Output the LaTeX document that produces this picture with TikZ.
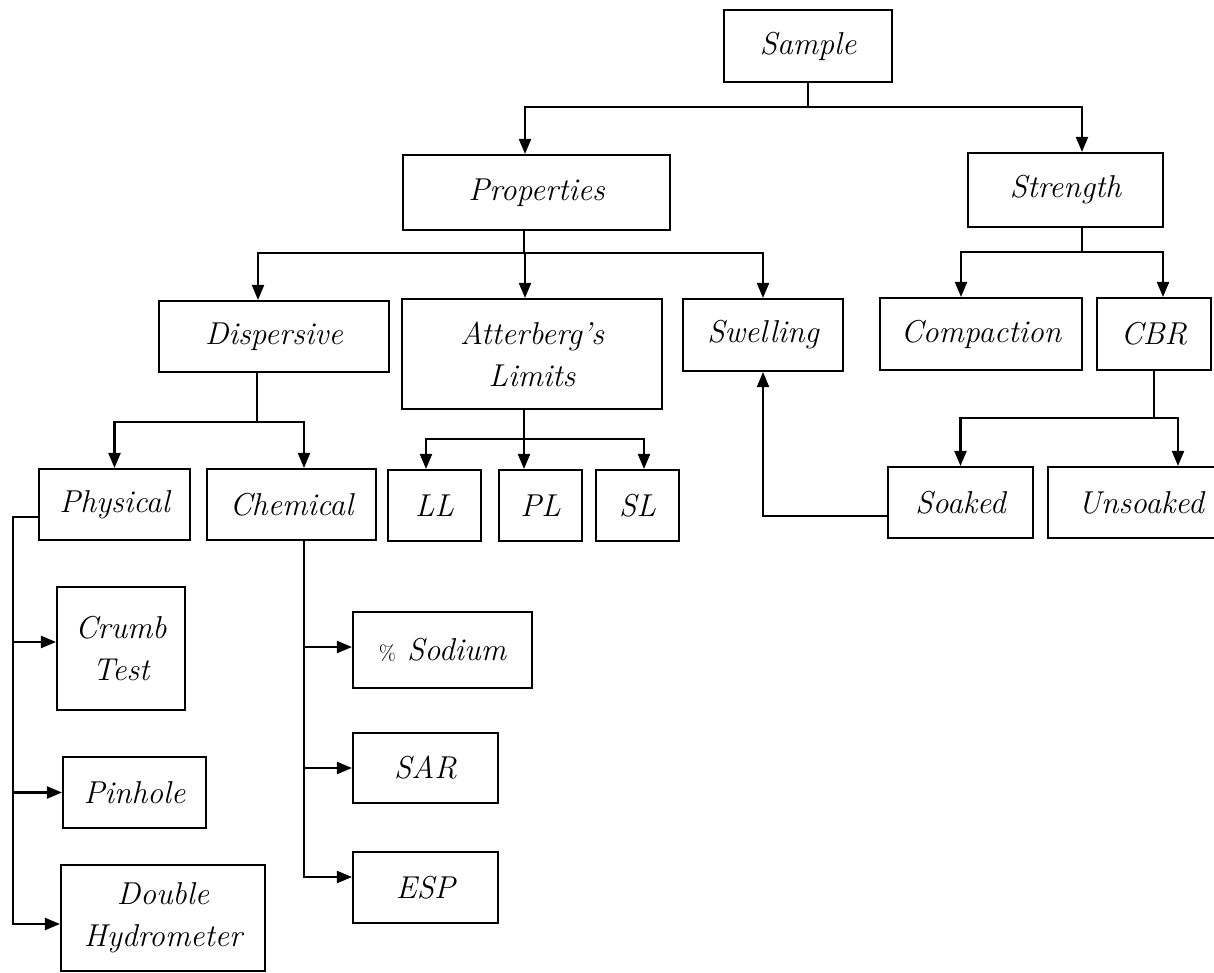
\documentclass[tikz,border=0pt]{standalone}
\usetikzlibrary{arrows.meta}
\begin{document}
\begin{tikzpicture}[
      x=0.02cm, y=-0.02cm,
      box/.style={rectangle, draw, line width=1.2pt, inner sep=0pt, align=center, font=\fontsize{18}{24}\selectfont\itshape},
      arrow/.style={-{Triangle[length=0.3cm, width=0.24cm]}, line width=1.2pt}
  ]
  \useasboundingbox[fill=white] (0,0) rectangle (1214,973);

  % Nodes (upper levels)
  \node[box, minimum width=3.36cm, minimum height=1.44cm] (sample) at (808,46) {Sample};
  \node[box, minimum width=5.34cm, minimum height=1.5cm] (props) at (536.5,192.5) {Properties};
  \node[box, minimum width=3.9cm, minimum height=1.48cm] (strength) at (1065.5,190) {Strength};
  \node[box, minimum width=4.6cm, minimum height=1.42cm] (disp) at (274,336.5) {Dispersive};
  \node[box, minimum width=5.2cm, minimum height=2.2cm] (atter) at (532,354) {Atterberg's\\Limits};
  \node[box, minimum width=3.2cm, minimum height=1.44cm] (swell) at (763,335) {Swelling};
  \node[box, minimum width=4.04cm, minimum height=1.44cm] (compact) at (981,334) {Compaction};
  \node[box, minimum width=2.28cm, minimum height=1.44cm] (cbr) at (1154,334) {CBR};

  % Nodes (test row)
  \node[box, minimum width=3.02cm, minimum height=1.42cm] (phys) at (114.5,504.5) {Physical};
  \node[box, minimum width=3.38cm, minimum height=1.42cm] (chem) at (291.5,504.5) {Chemical};
  \node[box, minimum width=1.86cm, minimum height=1.42cm] (ll) at (434.5,505.5) {LL};
  \node[box, minimum width=1.66cm, minimum height=1.42cm] (pl) at (540.5,505.5) {PL};
  \node[box, minimum width=1.66cm, minimum height=1.42cm] (sl) at (637.5,505.5) {SL};
  \node[box, minimum width=2.9cm, minimum height=1.42cm] (soaked) at (960.5,502.5) {Soaked};
  \node[box, minimum width=3.72cm, minimum height=1.42cm] (unsoaked) at (1141,502.5) {Unsoaked};

  % Nodes (lower branches)
  \node[box, minimum width=2.56cm, minimum height=2.46cm] (crumb) at (121,648.5) {Crumb\\Test};
  \node[box, minimum width=2.86cm, minimum height=1.42cm] (pinhole) at (134.5,792.5) {Pinhole};
  \node[box, minimum width=4.08cm, minimum height=2.12cm] (dhydro) at (163,918) {Double\\Hydrometer};
  \node[box, minimum width=3.58cm, minimum height=1.52cm] (sodium) at (442.5,650) {{\fontsize{12}{14}\selectfont\upshape\%} Sodium};
  \node[box, minimum width=2.9cm, minimum height=1.4cm] (sar) at (425.5,768) {SAR};
  \node[box, minimum width=2.9cm, minimum height=1.42cm] (esp) at (425.5,887.5) {ESP};

  % Arrows
  \draw[arrow] (sample.south) -- ++(0,24) -| ([xshift=-0.23cm]props.north);
  \draw[arrow] (sample.south) -- ++(0,24) -| ([xshift=0.33cm]strength.north);

  \draw[arrow] ([xshift=-0.25cm]props.south) -- ++(0,22) -| ([xshift=-0.32cm]disp.north);
  \draw[arrow] ([xshift=-0.25cm]props.south) -- ++(0,22) -| ([xshift=-0.14cm]atter.north);
  \draw[arrow] ([xshift=-0.25cm]props.south) -- ++(0,22) -| (swell.north);

  \draw[arrow] ([xshift=0.33cm]strength.south) -- ++(0,24) -| ([xshift=-0.4cm]compact.north);
  \draw[arrow] ([xshift=0.33cm]strength.south) -- ++(0,24) -| ([xshift=0.18cm]cbr.north);

  \draw[arrow] ([xshift=-0.34cm]disp.south) -- ++(0,49) -| (phys.north);
  \draw[arrow] ([xshift=-0.34cm]disp.south) -- ++(0,49) -| ([xshift=0.25cm]chem.north);

  \draw[arrow] ([xshift=-0.16cm]atter.south) -- ++(0,29) -| ([xshift=-0.17cm]ll.north);
  \draw[arrow] ([xshift=-0.16cm]atter.south) -- ++(0,29) -| ([xshift=-0.33cm]pl.north);
  \draw[arrow] ([xshift=-0.16cm]atter.south) -- ++(0,29) -| ([xshift=0.13cm]sl.north);

  \draw[arrow] (cbr.south) -- ++(0,47) -| (soaked.north);
  \draw[arrow] (cbr.south) -- ++(0,47) -| ([xshift=0.74cm]unsoaked.north);

  \draw[arrow] ([yshift=-0.27cm]soaked.west) -| (swell.south);

  \draw[arrow] ([yshift=-0.25cm]phys.west) -- ++(-25,0) |- ([yshift=0.13cm]crumb.west);
  \draw[arrow] ([yshift=-0.25cm]phys.west) -- ++(-25,0) |- (pinhole.west);
  \draw[arrow] ([yshift=-0.25cm]phys.west) -- ++(-25,0) |- ([yshift=-0.12cm]dhydro.west);

  \draw[arrow] ([xshift=0.25cm]chem.south) |- ([yshift=0.06cm]sodium.west);
  \draw[arrow] ([xshift=0.25cm]chem.south) |- (sar.west);
  \draw[arrow] ([xshift=0.25cm]chem.south) |- ([yshift=0.21cm]esp.west);

  \end{tikzpicture}
\end{document}
